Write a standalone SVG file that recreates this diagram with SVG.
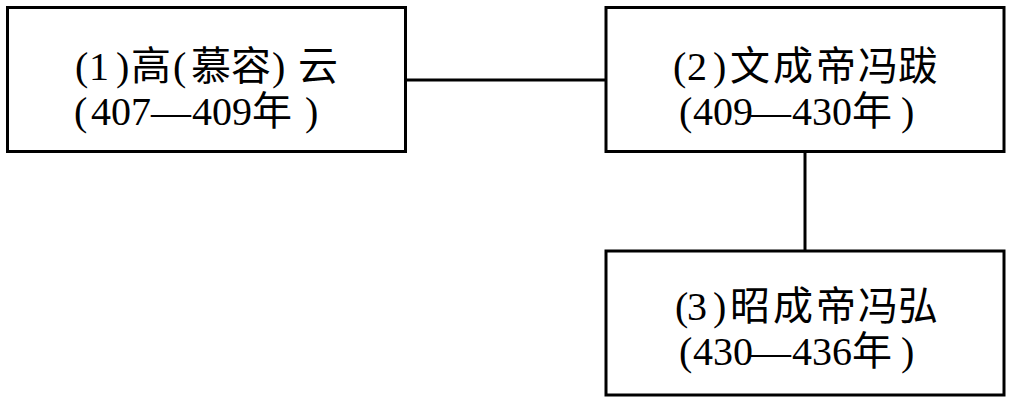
<svg xmlns="http://www.w3.org/2000/svg" width="1012" height="404" viewBox="0 0 1012 404">
<style>
.box{fill:#ffffff;stroke:#000000;stroke-width:3}
.conn{stroke:#000000;stroke-width:3;fill:none}
.t{font-family:"Liberation Serif","Noto Sans CJK SC",serif;font-size:40px;fill:#000000}
.d{font-family:"Liberation Serif","Times New Roman","DejaVu Serif",serif;font-size:40px}
.c{font-family:"Noto Sans CJK SC",sans-serif;font-size:40px}
</style>
<rect x="0" y="0" width="1012" height="404" fill="#ffffff"/>
<g id="connectors">
<line class="conn" x1="405.5" y1="80" x2="606" y2="80"/>
<line class="conn" x1="805" y1="151.5" x2="805" y2="251"/>
</g>
<g id="node1">
<rect class="box" x="7.5" y="7.5" width="398" height="144"/>
<text class="t" y="80"><tspan class="d" x="75">(</tspan><tspan class="d" x="89">1</tspan><tspan class="d" x="116">)</tspan><tspan class="c" x="131">高</tspan><tspan class="d" x="173">(</tspan><tspan class="c" x="191">慕容</tspan><tspan class="d" x="272">)</tspan><tspan class="c" x="298">云</tspan></text>
<text class="t" y="125"><tspan class="d" x="74">(</tspan><tspan class="d" x="91">407</tspan><tspan class="d" x="151">—</tspan><tspan class="d" x="192">409</tspan><tspan class="c" x="252">年</tspan><tspan class="d" x="305">)</tspan></text>
</g>
<g id="node2">
<rect class="box" x="606" y="7.5" width="398" height="144"/>
<text class="t" y="80"><tspan class="d" x="673">(</tspan><tspan class="d" x="687">2</tspan><tspan class="d" x="713">)</tspan><tspan class="c" x="730">文</tspan><tspan class="c" x="773">成</tspan><tspan class="c" x="816">帝</tspan><tspan class="c" x="858">冯</tspan><tspan class="c" x="898">跋</tspan></text>
<text class="t" y="125"><tspan class="d" x="679">(</tspan><tspan class="d" x="693">409</tspan><tspan class="d" x="751">—</tspan><tspan class="d" x="792">430</tspan><tspan class="c" x="852">年</tspan><tspan class="d" x="901">)</tspan></text>
</g>
<g id="node3">
<rect class="box" x="606" y="251" width="398" height="144"/>
<text class="t" y="320"><tspan class="d" x="675">(</tspan><tspan class="d" x="687">3</tspan><tspan class="d" x="713">)</tspan><tspan class="c" x="730">昭</tspan><tspan class="c" x="773">成</tspan><tspan class="c" x="816">帝</tspan><tspan class="c" x="858">冯</tspan><tspan class="c" x="898">弘</tspan></text>
<text class="t" y="365"><tspan class="d" x="679">(</tspan><tspan class="d" x="693">430</tspan><tspan class="d" x="751">—</tspan><tspan class="d" x="792">436</tspan><tspan class="c" x="852">年</tspan><tspan class="d" x="901">)</tspan></text>
</g>
</svg>
